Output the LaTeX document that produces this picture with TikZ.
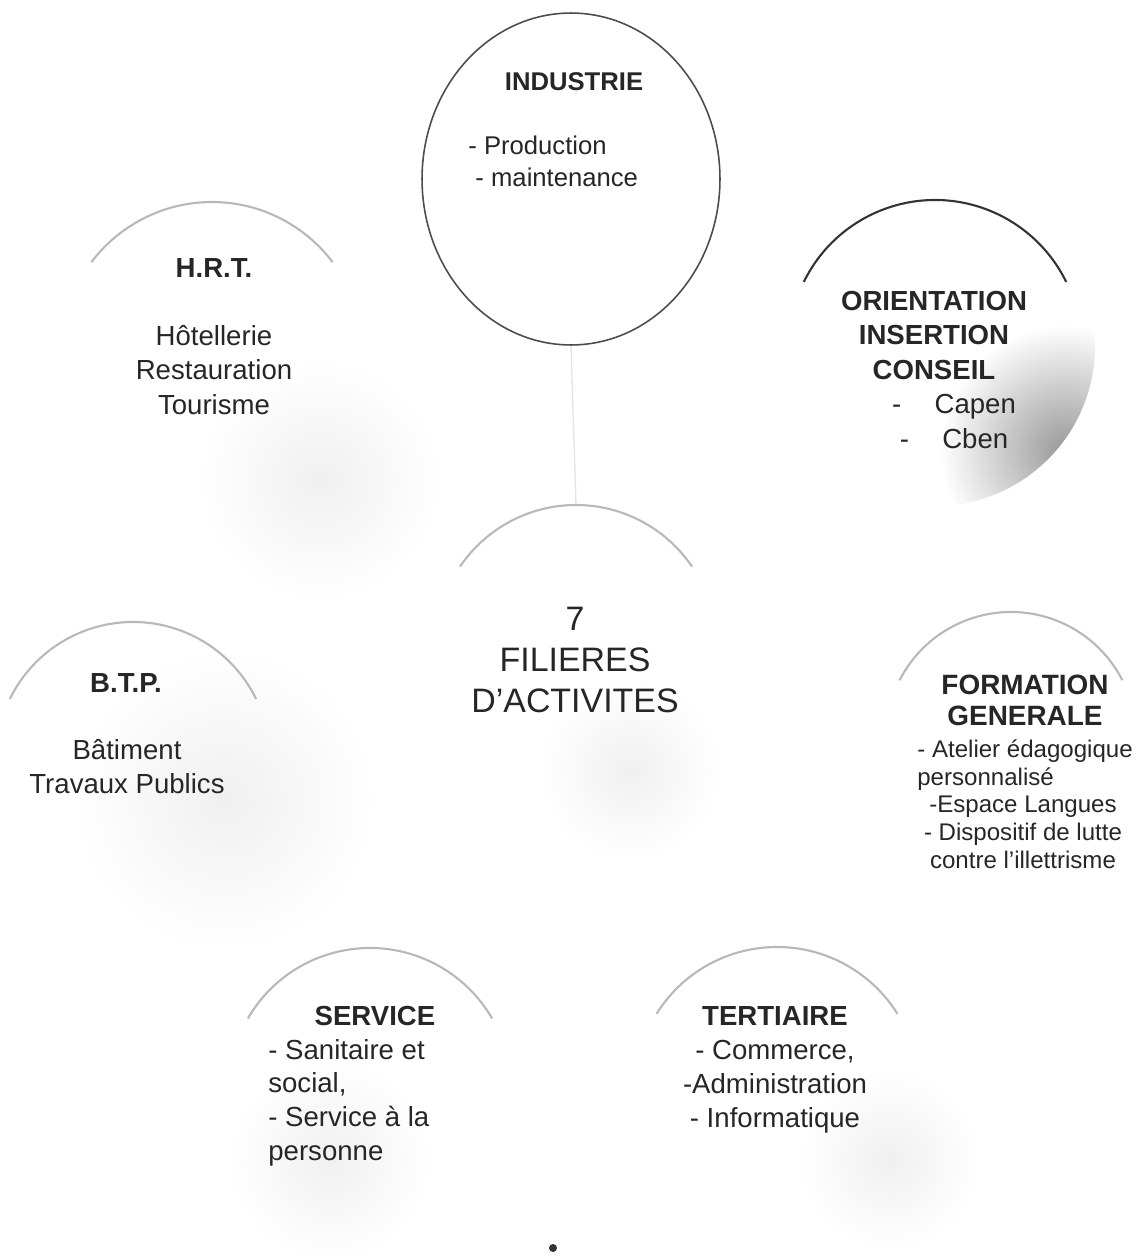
\documentclass[tikz,border=0pt]{standalone}
\usepackage{fontspec}
\setmainfont{Liberation Sans}
\usetikzlibrary{positioning,shapes.geometric}

\begin{document}
\begin{tikzpicture}[
    x=0.02cm, y=-0.02cm,
    txt/.style={inner sep=0pt, anchor=base, align=center, text=black!85},
    heading/.style={txt, font=\bfseries\fontsize{15.7}{19.4}\selectfont},
    body/.style={txt, font=\fontsize{15.7}{19.4}\selectfont},
    smallhead/.style={txt, font=\bfseries\fontsize{14.6}{18.2}\selectfont},
    smallbody/.style={txt, font=\fontsize{14.6}{18.2}\selectfont},
    rim/.style={draw=black!28, line width=1.2pt},
    haze/.style={inner color=black!6, outer color=white},
    link/.style={draw=black!10, line width=0.8pt}
]
\useasboundingbox (0,0) rectangle (1134,1258);

% circle centres
\coordinate (hrt) at (212,353);
\coordinate (ori) at (935,346);
\coordinate (ctr) at (576,645);
\coordinate (btp) at (133,759);
\coordinate (form) at (1011,737);
\coordinate (serv) at (370,1089);
\coordinate (tert) at (777,1089);
\coordinate (ctr-top) at (576,505);

% scanner haze
\shade[haze] (320,480) circle (120);
\shade[haze] (225,800) circle (150);
\shade[haze] (630,770) circle (90);
\shade[haze] (890,1160) circle (90);
\shade[haze] (330,1160) circle (100);
\begin{scope}
  \clip (ori) circle (160);
  \shade[inner color=black!40, outer color=white] (1065,450) circle (125);
\end{scope}

% Industrie
\node[ellipse, draw=black!70, line width=0.9pt, minimum width=5.96cm, minimum height=6.64cm] (ind) at (571,179) {};
\node[smallhead] (ind-title) at (574,90) {INDUSTRIE};
\node[smallbody, align=left, anchor=base west] (ind-list) at (468,186) {- Production\\\ - maintenance};
\draw[link] (ind.south) -- (ctr-top);

% partial rims
\draw[rim] (hrt) ++(-143:151) arc[start angle=-143, end angle=-37, radius=151];
\draw[rim, draw=black!80] (ori) ++(-154:146) arc[start angle=-154, end angle=-26, radius=146];
\draw[rim] (ctr) ++(-146:140) arc[start angle=-146, end angle=-34, radius=140];
\draw[rim] (btp) ++(-154:137) arc[start angle=-154, end angle=-26, radius=137];
\draw[rim] (form) ++(-153:125) arc[start angle=-153, end angle=-27, radius=125];
\draw[rim] (serv) ++(-150:141) arc[start angle=-150, end angle=-30, radius=141];
\draw[rim] (tert) ++(-148:142) arc[start angle=-148, end angle=-32, radius=142];

% H.R.T.
\node[heading] (hrt-title) at (214,277) {H.R.T.};
\node[body] (hrt-list) at (214,414) {Hôtellerie\\Restauration\\Tourisme};

% Orientation
\node[heading] (ori-title) at (934,379) {ORIENTATION\\INSERTION\\CONSEIL};
\node[body] (ori-list) at (954,448) {-\hspace{19pt}Capen\\-\hspace{19pt}Cben};

% centre
\node[txt, font=\fontsize{19.3}{23.3}\selectfont] (ctr-text) at (575,712) {7\\FILIERES\\D’ACTIVITES};

% B.T.P.
\node[heading] (btp-title) at (126,692) {B.T.P.};
\node[body, font=\fontsize{15.7}{18.8}\selectfont] (btp-list) at (127,793) {Bâtiment\\Travaux Publics};

% Formation generale
\node[txt, font=\bfseries\fontsize{15.9}{17.1}\selectfont] (form-title) at (1025,725) {FORMATION\\GENERALE};
\node[txt, font=\fontsize{13.7}{15.9}\selectfont, align=left, anchor=base west] (form-list) at (917,785) {- Atelier édagogique\\personnalisé};
\node[txt, font=\fontsize{13.7}{15.9}\selectfont] (form-more) at (1023,868) {-Espace Langues\\- Dispositif de lutte\\contre l’illettrisme};

% Service
\node[heading] (serv-title) at (375,1025) {SERVICE};
\node[body, font=\fontsize{15.7}{19.1}\selectfont, align=left, anchor=base west] (serv-list) at (268,1160) {- Sanitaire et\\social,\\- Service à la\\personne};

% Tertiaire
\node[heading] (tert-title) at (775,1025) {TERTIAIRE};
\node[body, font=\fontsize{15.7}{19.1}\selectfont] (tert-list) at (775,1127) {- Commerce,\\-Administration\\- Informatique};

\node[circle, fill=black!80, inner sep=0pt, minimum size=0.16cm] (dot) at (553,1248) {};
\end{tikzpicture}
\end{document}
